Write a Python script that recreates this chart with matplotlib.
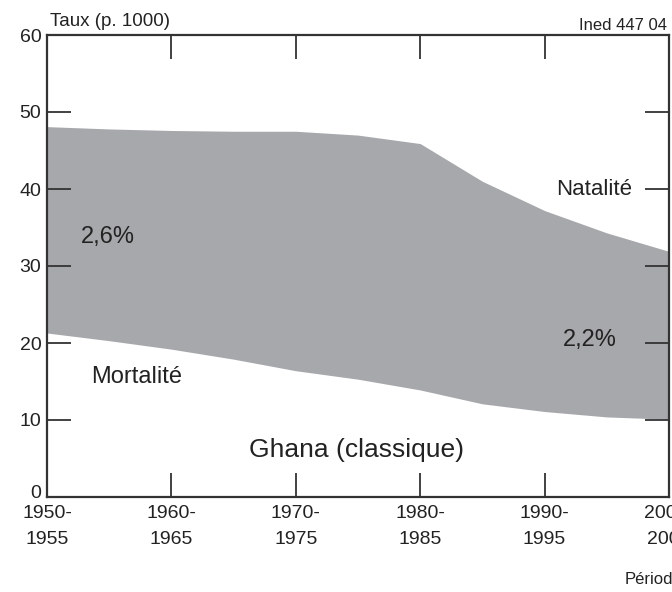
import matplotlib.pyplot as plt
from matplotlib.transforms import ScaledTranslation

# Ghana - taux de natalite et de mortalite (p. 1000), par periode quinquennale
periodes = [1950, 1955, 1960, 1965, 1970, 1975, 1980, 1985, 1990, 1995, 2000]
natalite = [48.1, 47.8, 47.6, 47.5, 47.5, 47.0, 45.9, 41.0, 37.2, 34.3, 31.9]
mortalite = [21.3, 20.3, 19.2, 17.9, 16.4, 15.3, 13.9, 12.1, 11.1, 10.4, 10.1]

xticks = [1950, 1960, 1970, 1980, 1990, 2000]
xlabels = ['1950-\n1955', '1960-\n1965', '1970-\n1975', '1980-\n1985', '1990-\n1995', '2000-\n2005']
yticks = [0, 10, 20, 30, 40, 50, 60]

plt.rcParams['font.family'] = ['Liberation Sans', 'DejaVu Sans']

fig = plt.figure(figsize=(6.72, 5.92), dpi=100)
ax = fig.add_axes([47/672, 1 - 497/592, (669 - 47)/672, (497 - 35)/592])

ax.fill_between(periodes, mortalite, natalite, color='#a7a8ab', linewidth=0)

ax.set_xlim(1950, 2000)
ax.set_ylim(0, 60)
ax.set_xticks(xticks)
ax.set_xticklabels(xlabels, fontsize=14, color='#222222', linespacing=1.7)
ax.set_yticks(yticks)
ax.set_yticklabels([str(v) for v in yticks], fontsize=14, color='#222222')
ax.tick_params(axis='both', direction='in', length=17, width=1.3, color='#333333',
               top=True, right=True, pad=4)
ax.tick_params(axis='x', pad=6)
for s in ax.spines.values():
    s.set_linewidth(1.6)
    s.set_color('#333333')

# le "0" est un peu remonte comme sur l'original
lab0 = ax.get_yticklabels()[0]
lab0.set_transform(lab0.get_transform() + ScaledTranslation(0, 6/100, fig.dpi_scale_trans))

c = '#222222'
fig.text(50/672, 1 - 21/592, 'Taux (p. 1000)', fontsize=13.5, color=c, va='center')
fig.text(667/672, 1 - 25/592, 'Ined 447 04', fontsize=12, color=c, va='center', ha='right')
fig.text(625/672, 1 - 580/592, 'Période', fontsize=12, color=c, va='center')

ax.text(1954.9, 33.8, '2,6%', fontsize=17, color=c, va='center', ha='center')
ax.text(1993.6, 20.4, '2,2%', fontsize=17, color=c, va='center', ha='center')
ax.text(1994.0, 39.9, 'Natalité', fontsize=16, color=c, va='center', ha='center')
ax.text(1957.2, 15.6, 'Mortalité', fontsize=17, color=c, va='center', ha='center')
ax.text(1974.9, 6.1, 'Ghana (classique)', fontsize=19, color=c, va='center', ha='center')

fig.savefig('out.png', dpi=100)
